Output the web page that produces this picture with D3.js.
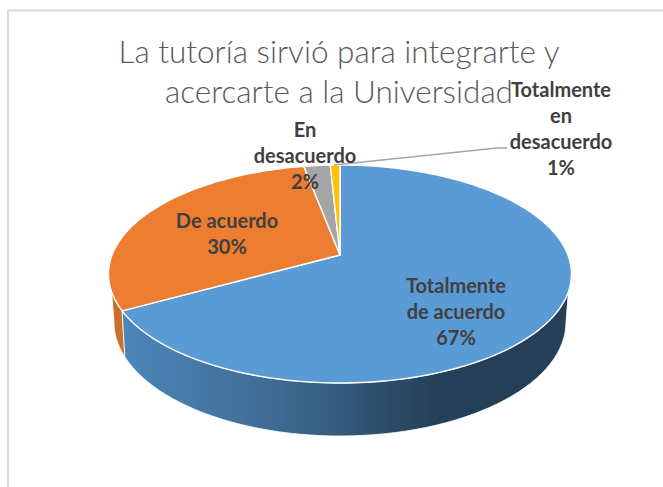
<!DOCTYPE html>
<html>
<head>
<meta charset="utf-8">
<script src="https://cdn.jsdelivr.net/npm/d3@7"></script>
<style>
  html, body { margin: 0; padding: 0; background: #fff; }
  svg { display: block; }
  .label { font-family: Lato, "Open Sans", sans-serif; font-weight: 700; font-size: 20px; fill: #404040; text-anchor: middle; }
  .title { font-family: Lato, "Open Sans", sans-serif; font-weight: 300; font-size: 31.5px; fill: #595959; text-anchor: middle; }
</style>
</head>
<body>
<div id="chart"></div>
<script>
// Chart data
const categories = ["Totalmente de acuerdo", "De acuerdo", "En desacuerdo", "Totalmente en desacuerdo"];
const values = [67, 30, 2.2, 0.8];
const titleLines = ["La tutoría sirvió para integrarte y", "acercarte a la Universidad"];
const colors = ["#5b9bd5", "#ed7d31", "#a5a5a5", "#ffc000"];

const width = 663;
const height = 487;

// Top face ellipse, and the apex of the slices (above the centre because of perspective)
const cx = 340, cy = 274, rx = 231.5, ry = 109;
const apexY = 255;
const squash = 0.467;

// Bottom ellipse of the side wall
const bcy = 322, brx = 226, bry = 114;

const svg = d3.select("#chart").append("svg")
    .attr("width", width)
    .attr("height", height);

// Blue wall gets darker from left to right
const defs = svg.append("defs");
const grad = defs.append("linearGradient")
    .attr("id", "wallBlue")
    .attr("gradientUnits", "userSpaceOnUse")
    .attr("x1", 120).attr("x2", 440).attr("y1", 0).attr("y2", 0);
grad.append("stop").attr("offset", "0%").attr("stop-color", "#4d86ba");
grad.append("stop").attr("offset", "50%").attr("stop-color", "#3d6a92");
grad.append("stop").attr("offset", "100%").attr("stop-color", "#243f57");

// Frame, only top and left show
svg.append("path")
    .attr("d", `M8,${height} V10.5 H${width}`)
    .attr("fill", "none")
    .attr("stroke", "#d9d9d9")
    .attr("stroke-width", 2);

// Where a ray from the apex hits the rim, t is clockwise from the top
function rim(t) {
    const dx = Math.sin(t), dy = -Math.cos(t) * squash;
    const oy = apexY - cy;
    const a = dx * dx / (rx * rx) + dy * dy / (ry * ry);
    const b = 2 * oy * dy / (ry * ry);
    const c = oy * oy / (ry * ry) - 1;
    const k = (-b + Math.sqrt(b * b - 4 * a * c)) / (2 * a);
    return [cx + k * dx, apexY + k * dy];
}

const line = d3.line();
const slices = d3.pie().sort(null)(values);

const toRad = d => d * Math.PI / 180;
const topPoint = phi => [cx + rx * Math.cos(phi), cy + ry * Math.sin(phi)];
const bottomPoint = phi => [cx + brx * Math.cos(phi), bcy + bry * Math.sin(phi)];

// Walls: run along the top rim one way, back along the bottom rim the other way
function wall(phi0, phi1, bPhi0, bPhi1) {
    const topEdge = d3.range(0, 61).map(i => topPoint(phi0 + (phi1 - phi0) * i / 60));
    const bottomEdge = d3.range(0, 61).map(i => bottomPoint(bPhi1 + (bPhi0 - bPhi1) * i / 60));
    return line(topEdge.concat(bottomEdge)) + "Z";
}

const junction = rim(slices[0].endAngle);
const phiJ = Math.atan2((junction[1] - cy) / ry, (junction[0] - cx) / rx);
const phiEdge = Math.asin(18 / ry);

svg.append("path")
    .attr("d", wall(Math.PI - phiEdge, phiJ, Math.PI, phiJ + toRad(2)))
    .attr("fill", "#c8702c")
    .attr("stroke", "#fff")
    .attr("stroke-width", 0.8);

svg.append("path")
    .attr("d", wall(phiEdge, phiJ, 0, phiJ + toRad(2)))
    .attr("fill", "url(#wallBlue)")
    .attr("stroke", "#fff")
    .attr("stroke-width", 0.8);

// Top face
svg.append("g").selectAll("path")
    .data(slices)
    .enter().append("path")
    .attr("d", d => {
        const n = Math.max(4, Math.ceil((d.endAngle - d.startAngle) * 40));
        const edge = d3.range(0, n + 1).map(i => rim(d.startAngle + (d.endAngle - d.startAngle) * i / n));
        return line([[cx, apexY]].concat(edge)) + "Z";
    })
    .attr("fill", (d, i) => colors[i])
    .attr("stroke", "#fff")
    .attr("stroke-width", 1.4)
    .attr("stroke-linejoin", "round");

// Leader line for the last label
svg.append("polyline")
    .attr("points", "334,165 497,148 507,148")
    .attr("fill", "none")
    .attr("stroke", "#a5a5a5")
    .attr("stroke-width", 1.5);

// Title
svg.append("g").selectAll("text")
    .data(titleLines)
    .enter().append("text")
    .attr("class", "title")
    .attr("x", 339)
    .attr("y", (d, i) => 63 + i * 40)
    .text(d => d);

// Data labels, wrapped the way the chart wraps them
const pct = values.map(v => Math.round(v) + "%");
const labelRows = [
    { x: 456, y: 293, lines: ["Totalmente", "de acuerdo", pct[0]] },
    { x: 227, y: 228, lines: ["De acuerdo", pct[1]] },
    { x: 305, y: 137, lines: ["En", "desacuerdo", pct[2]] },
    { x: 561, y: 97, lines: ["Totalmente", "en", "desacuerdo", pct[3]] }
];

labelRows.forEach(row => {
    const t = svg.append("text").attr("class", "label");
    row.lines.forEach((s, i) => {
        t.append("tspan")
            .attr("x", row.x)
            .attr("y", row.y + i * 26)
            .text(s);
    });
});
</script>
</body>
</html>
